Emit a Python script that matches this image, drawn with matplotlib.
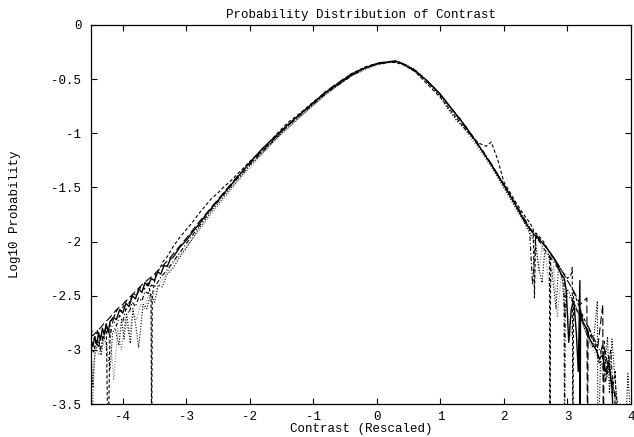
import numpy as np
import matplotlib
matplotlib.use("Agg")
import matplotlib.pyplot as plt

# Data (log10 probability vs rescaled contrast)
# values of -4.0 are empty bins (log10 of zero) -> line runs off the bottom

# solid
x_solid = [-4.50, -4.47, -4.44, -4.41, -4.38, -4.35, -4.32, -4.29, -4.26, -4.23,
           -4.20, -4.15, -4.10, -4.05, -4.00, -3.95, -3.90, -3.85, -3.80, -3.75,
           -3.70, -3.65, -3.60, -3.55, -3.50, -3.45, -3.40, -3.35, -3.30, -3.25,
           -3.20, -3.10, -3.00, -2.90, -2.80, -2.70, -2.60, -2.50, -2.40, -2.30,
           -2.20, -2.10, -2.00, -1.80, -1.60, -1.40, -1.20, -1.00, -0.80, -0.60,
           -0.40, -0.20, 0.00, 0.15, 0.30, 0.45, 0.60, 0.80, 1.00, 1.20,
           1.40, 1.60, 1.80, 2.00, 2.10, 2.20, 2.30, 2.40, 2.50, 2.60,
           2.70, 2.80, 2.90, 2.95, 2.98, 3.02, 3.06, 3.10, 3.14, 3.17,
           3.195, 3.20, 3.205, 3.25, 3.30, 3.35, 3.40, 3.45, 3.50, 3.55,
           3.60, 3.65, 3.70, 3.75]
y_solid = [-2.90, -2.97, -2.88, -2.95, -2.84, -2.91, -2.80, -2.86, -2.76, -2.84,
           -2.74, -2.70, -2.72, -2.63, -2.66, -2.57, -2.60, -2.50, -2.53, -2.44,
           -2.47, -2.38, -2.41, -2.34, -2.36, -2.28, -2.30, -2.22, -2.23, -2.16,
           -2.14, -2.05, -1.99, -1.91, -1.84, -1.76, -1.69, -1.62, -1.55, -1.48,
           -1.41, -1.34, -1.27, -1.14, -1.03, -0.92, -0.82, -0.72, -0.62, -0.54,
           -0.46, -0.40, -0.36, -0.345, -0.335, -0.37, -0.42, -0.52, -0.64, -0.79,
           -0.94, -1.11, -1.29, -1.48, -1.58, -1.68, -1.79, -1.88, -1.95, -2.01,
           -2.08, -2.17, -2.30, -2.34, -2.45, -2.93, -2.62, -2.55, -2.85, -3.20,
           -2.36, -4.00, -2.64, -2.75, -2.80, -2.90, -2.95, -3.00, -3.08, -3.05,
           -3.20, -3.12, -3.35, -4.00]

# dashed
x_dash = [-4.50, -4.46, -4.42, -4.38, -4.34, -4.30, -4.26, -4.23, -4.20, -4.14,
          -4.08, -4.02, -3.96, -3.90, -3.84, -3.78, -3.72, -3.66, -3.60, -3.555,
          -3.545, -3.535, -3.48, -3.42, -3.36, -3.30, -3.20, -3.10, -3.00, -2.90,
          -2.80, -2.70, -2.60, -2.50, -2.40, -2.30, -2.20, -2.10, -2.00, -1.80,
          -1.60, -1.40, -1.20, -1.00, -0.80, -0.60, -0.40, -0.20, 0.00, 0.20,
          0.40, 0.60, 0.80, 1.00, 1.20, 1.40, 1.60, 1.72, 1.80, 1.90,
          2.00, 2.20, 2.30, 2.40, 2.46, 2.48, 2.50, 2.60, 2.66, 2.715,
          2.725, 2.735, 2.80, 2.90, 3.00, 3.06, 3.075, 3.085, 3.095, 3.15,
          3.25, 3.35, 3.45, 3.50, 3.55, 3.60, 3.65, 3.70, 3.75, 3.80]
y_dash = [-2.95, -3.02, -2.92, -2.98, -2.86, -2.90, -2.76, -4.00, -2.74, -2.70,
          -2.62, -2.64, -2.55, -2.57, -2.48, -2.50, -2.42, -2.44, -2.37, -2.52,
          -4.00, -2.50, -2.30, -2.25, -2.18, -2.14, -2.04, -1.96, -1.89, -1.82,
          -1.74, -1.67, -1.60, -1.55, -1.49, -1.44, -1.38, -1.32, -1.26, -1.15,
          -1.02, -0.90, -0.81, -0.71, -0.62, -0.53, -0.45, -0.39, -0.355, -0.34,
          -0.36, -0.43, -0.55, -0.67, -0.82, -0.97, -1.09, -1.12, -1.08, -1.24,
          -1.45, -1.65, -1.74, -1.82, -1.88, -2.52, -1.92, -1.98, -2.04, -2.10,
          -4.00, -2.12, -2.16, -2.26, -2.34, -2.30, -2.24, -4.00, -2.45, -2.55,
          -2.70, -2.82, -2.98, -3.12, -2.95, -3.30, -3.05, -3.40, -3.20, -4.00]

# dotted
x_dot = [-4.50, -4.47, -4.45, -4.42, -4.38, -4.34, -4.30, -4.26, -4.20, -4.16,
         -4.12, -4.06, -4.02, -3.98, -3.94, -3.88, -3.84, -3.80, -3.75, -3.68,
         -3.62, -3.56, -3.50, -3.44, -3.38, -3.30, -3.20, -3.10, -3.00, -2.90,
         -2.80, -2.70, -2.60, -2.50, -2.40, -2.30, -2.20, -2.10, -2.00, -1.80,
         -1.60, -1.40, -1.20, -1.00, -0.80, -0.60, -0.40, -0.20, 0.00, 0.20,
         0.40, 0.60, 0.80, 1.00, 1.10, 1.25, 1.40, 1.60, 1.80, 2.00,
         2.20, 2.30, 2.40, 2.50, 2.55, 2.60, 2.64, 2.70, 2.76, 2.82,
         2.86, 2.92, 2.96, 3.00, 3.10, 3.20, 3.30, 3.40, 3.47, 3.48,
         3.52, 3.58, 3.63, 3.66, 3.70, 3.76, 3.80, 3.90, 3.95, 3.99]
y_dot = [-3.00, -3.35, -3.10, -2.98, -2.92, -3.05, -2.88, -2.95, -3.18, -2.85,
         -2.80, -2.96, -2.72, -2.90, -2.66, -2.94, -2.62, -2.75, -2.98, -2.58,
         -2.62, -2.48, -2.56, -2.40, -2.42, -2.30, -2.24, -2.14, -2.06, -1.97,
         -1.88, -1.80, -1.72, -1.65, -1.58, -1.51, -1.44, -1.37, -1.30, -1.18,
         -1.06, -0.95, -0.84, -0.74, -0.64, -0.55, -0.47, -0.41, -0.365, -0.34,
         -0.35, -0.41, -0.52, -0.66, -0.76, -0.88, -0.96, -1.12, -1.30, -1.50,
         -1.70, -1.80, -1.92, -2.02, -2.25, -2.38, -2.10, -2.12, -2.30, -2.62,
         -2.22, -2.35, -2.70, -2.44, -2.56, -2.70, -2.85, -2.98, -2.55, -4.00,
         -3.10, -3.20, -2.88, -3.40, -2.90, -3.35, -3.60, -4.00, -3.22, -3.60]

# dash-dot
x_dashdot = [-4.50, -4.45, -4.40, -4.35, -4.30, -4.25, -4.20, -4.15, -4.10, -4.05,
             -4.00, -3.95, -3.90, -3.85, -3.80, -3.75, -3.70, -3.65, -3.60, -3.55,
             -3.50, -3.40, -3.30, -3.20, -3.10, -3.00, -2.90, -2.80, -2.70, -2.60,
             -2.50, -2.40, -2.30, -2.20, -2.10, -2.00, -1.80, -1.60, -1.40, -1.20,
             -1.00, -0.80, -0.60, -0.40, -0.20, 0.00, 0.20, 0.35, 0.50, 0.70,
             0.90, 1.10, 1.30, 1.50, 1.70, 1.90, 2.10, 2.30, 2.40, 2.45,
             2.50, 2.56, 2.62, 2.70, 2.80, 2.90, 2.945, 2.955, 2.965, 3.05,
             3.15, 3.25, 3.35, 3.45, 3.52, 3.58, 3.62, 3.68, 3.72, 3.78, 3.85]
y_dashdot = [-2.80, -2.90, -2.82, -3.00, -2.84, -2.78, -2.88, -2.72, -2.78, -2.68,
             -2.74, -2.62, -2.66, -2.56, -2.60, -2.52, -2.55, -2.46, -2.48, -2.40,
             -2.42, -2.33, -2.26, -2.18, -2.10, -2.02, -1.94, -1.86, -1.78, -1.70,
             -1.63, -1.56, -1.49, -1.42, -1.36, -1.29, -1.17, -1.05, -0.93, -0.83,
             -0.73, -0.63, -0.55, -0.47, -0.40, -0.36, -0.345, -0.335, -0.39, -0.47,
             -0.58, -0.72, -0.86, -1.02, -1.19, -1.38, -1.57, -1.77, -1.86, -2.40,
             -1.96, -2.00, -2.06, -2.12, -2.20, -2.30, -2.38, -4.00, -2.50, -2.52,
             -2.64, -2.76, -2.86, -2.95, -3.02, -2.92, -3.25, -3.00, -3.38, -3.45, -4.00]

# long dashes
x_long = [-4.50, -4.40, -4.30, -4.20, -4.10, -4.00, -3.90, -3.80, -3.70, -3.60,
          -3.50, -3.40, -3.30, -3.20, -3.00, -2.80, -2.60, -2.40, -2.20, -2.00,
          -1.60, -1.20, -0.80, -0.40, 0.00, 0.30, 0.60, 1.00, 1.40, 1.80,
          2.20, 2.40, 2.60, 2.80, 3.00, 3.10, 3.20, 3.305, 3.315, 3.325,
          3.40, 3.48, 3.555, 3.565, 3.575, 3.62, 3.68, 3.74, 3.80]
y_long = [-2.88, -2.83, -2.76, -2.70, -2.63, -2.58, -2.52, -2.46, -2.40, -2.35,
          -2.30, -2.24, -2.18, -2.11, -1.97, -1.82, -1.68, -1.54, -1.40, -1.28,
          -1.04, -0.82, -0.61, -0.45, -0.35, -0.33, -0.42, -0.64, -0.95, -1.28,
          -1.67, -1.87, -2.00, -2.16, -2.36, -2.46, -2.58, -2.52, -4.00, -2.78,
          -2.88, -2.96, -2.58, -4.00, -2.98, -3.10, -3.22, -3.40, -4.00]

# faint dotted
x_faint = [-4.50, -4.47, -4.44, -4.38, -4.32, -4.26, -4.20, -4.14, -4.08, -4.02,
           -3.96, -3.90, -3.84, -3.78, -3.72, -3.66, -3.60, -3.54, -3.46, -3.38,
           -3.30, -3.20, -3.00, -2.80, -2.60, -2.40, -2.20, -2.00, -1.60, -1.20,
           -0.80, -0.40, 0.00, 0.30, 0.60, 1.00, 1.40, 1.80, 2.20, 2.40,
           2.50, 2.55, 2.60, 2.66, 2.72, 2.78, 2.84, 2.90, 2.96, 3.05,
           3.12, 3.22, 3.32, 3.42, 3.50, 3.58, 3.66, 3.74, 3.80]
y_faint = [-2.98, -3.55, -2.95, -3.05, -2.92, -3.00, -2.86, -3.28, -2.80, -3.00,
           -2.72, -2.86, -2.66, -2.72, -2.58, -2.62, -2.50, -2.52, -2.42, -2.36,
           -2.28, -2.20, -2.05, -1.90, -1.74, -1.60, -1.45, -1.32, -1.06, -0.85,
           -0.64, -0.47, -0.37, -0.34, -0.43, -0.66, -0.98, -1.31, -1.71, -1.90,
           -2.00, -2.28, -2.05, -2.15, -2.45, -2.22, -2.70, -2.32, -2.42, -2.88,
           -2.58, -2.72, -2.90, -3.02, -3.10, -3.30, -3.18, -3.45, -4.00]

xticks = [-4, -3, -2, -1, 0, 1, 2, 3, 4]
xtick_labels = ["-4", "-3", "-2", "-1", "0", "1", "2", "3", "4"]
yticks = [0, -0.5, -1, -1.5, -2, -2.5, -3, -3.5]
ytick_labels = ["0", "-0.5", "-1", "-1.5", "-2", "-2.5", "-3", "-3.5"]

plt.rcParams['font.family'] = ['Liberation Mono', 'DejaVu Sans Mono']
plt.rcParams['font.size'] = 9

fig = plt.figure(figsize=(6.34, 4.37), dpi=100)
ax = fig.add_axes([0.1435, 0.0755, 0.8518, 0.8673])

LW = 0.8
ax.plot(x_faint, y_faint, color='#8a8a8a', lw=LW, dashes=(1, 1.5))
ax.plot(x_long, y_long, color='black', lw=LW, dashes=(7, 3))
ax.plot(x_dashdot, y_dashdot, color='black', lw=LW, dashes=(4, 2, 1, 2))
ax.plot(x_dot, y_dot, color='black', lw=LW, dashes=(1, 1.5))
ax.plot(x_dash, y_dash, color='black', lw=LW, dashes=(3, 2))
ax.plot(x_solid, y_solid, color='black', lw=1.0)

ax.set_xlim(-4.5, 4)
ax.set_ylim(-3.5, 0)
ax.set_xticks(xticks)
ax.set_xticklabels(xtick_labels)
ax.set_yticks(yticks)
ax.set_yticklabels(ytick_labels)
ax.tick_params(direction='in', top=True, right=True, length=4, width=0.8)
ax.tick_params(axis='x', pad=5)
ax.tick_params(axis='y', pad=7)
for s in ax.spines.values():
    s.set_linewidth(0.9)

ax.set_title("Probability Distribution of Contrast", fontsize=9, pad=5)
ax.set_xlabel("Contrast (Rescaled)", labelpad=0)
ax.set_ylabel("Log10 Probability", labelpad=22)

plt.savefig("out.png", dpi=100)
